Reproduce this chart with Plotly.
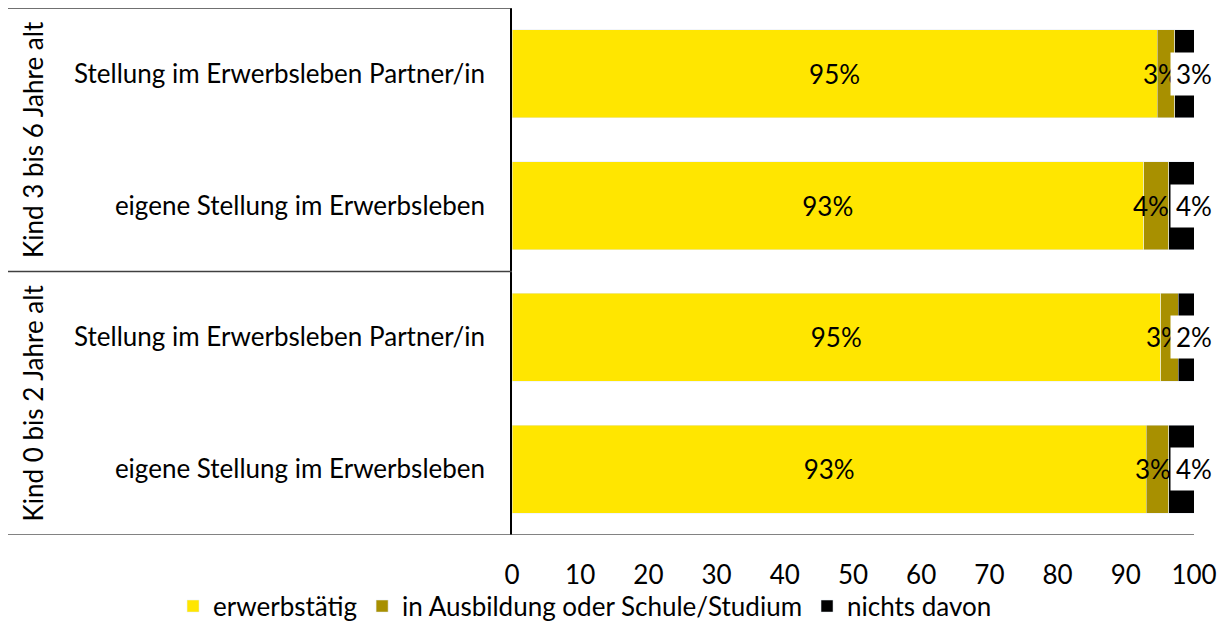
import plotly.graph_objects as go

# categories, bottom to top
groups = ["Kind 0 bis 2 Jahre alt", "Kind 0 bis 2 Jahre alt",
          "Kind 3 bis 6 Jahre alt", "Kind 3 bis 6 Jahre alt"]
labels = ["eigene Stellung im Erwerbsleben", "Stellung im Erwerbsleben Partner/in",
          "eigene Stellung im Erwerbsleben", "Stellung im Erwerbsleben Partner/in"]
keys = [g + " | " + l for g, l in zip(groups, labels)]

erwerbstaetig = [93.0, 95.1, 92.6, 94.6]
ausbildung = [3.3, 2.6, 3.7, 2.6]
nichts = [3.7, 2.3, 3.7, 2.8]

ticks = [0, 10, 20, 30, 40, 50, 60, 70, 80, 90, 100]

FONT = "Lato"
FS = 26
YELLOW = "#FFE600"
OLIVE = "#A89000"

fig = go.Figure()

fig.add_trace(go.Bar(
    y=keys, x=erwerbstaetig, orientation="h", name="erwerbstätig",
    marker_color=YELLOW, text=[f"{v:.0f}%" for v in erwerbstaetig],
    textposition="inside", insidetextanchor="middle", textangle=0,
    textfont=dict(color="black", size=FS), hoverinfo="x+name",
))
fig.add_trace(go.Bar(
    y=keys, x=ausbildung, orientation="h", name="in Ausbildung oder Schule/Studium",
    marker_color=OLIVE, hoverinfo="x+name",
))
fig.add_trace(go.Bar(
    y=keys, x=nichts, orientation="h", name="nichts davon",
    marker_color="black", hoverinfo="x+name",
))

# segment labels for the thin segments
for i, k in enumerate(keys):
    fig.add_annotation(
        x=erwerbstaetig[i] + ausbildung[i] / 2, y=k, xref="x", yref="y",
        text=f"{ausbildung[i]:.0f}%", showarrow=False, xshift=-5,
        font=dict(size=FS, color="black"),
    )
for i, k in enumerate(keys):
    total = erwerbstaetig[i] + ausbildung[i] + nichts[i]
    fig.add_annotation(
        x=total, y=k, xref="x", yref="y",
        text=f"{nichts[i]:.0f}%", showarrow=False,
        bgcolor="white", borderpad=5,
        font=dict(size=FS, color="black"),
    )

# group labels
for gi, g in enumerate(["Kind 0 bis 2 Jahre alt", "Kind 3 bis 6 Jahre alt"]):
    fig.add_annotation(
        x=-0.702, y=gi * 2 + 0.5, xref="paper", yref="y",
        xanchor="center", yanchor="middle",
        text=g, textangle=-90, showarrow=False,
        font=dict(size=FS, color="black"),
    )

# table lines on the left
for yv in [3.5, 1.5]:
    fig.add_shape(type="line", xref="paper", yref="y", x0=-0.739, x1=0,
                  y0=yv, y1=yv, line=dict(color="#404040", width=1.5))
fig.add_shape(type="line", xref="paper", yref="y", x0=-0.739, x1=1,
              y0=-0.5, y1=-0.5, line=dict(color="#595959", width=1.5))

fig.update_layout(
    barmode="stack",
    bargap=1 / 3,
    width=1226, height=624,
    margin=dict(l=504, r=40, t=0, b=97, autoexpand=False),
    paper_bgcolor="white", plot_bgcolor="white",
    font=dict(family=FONT, size=FS, color="black"),
    legend=dict(orientation="h", x=-0.497, xanchor="left", y=-0.135,
                yanchor="middle", font=dict(size=FS), traceorder="normal",
                itemwidth=30, bgcolor="rgba(0,0,0,0)"),
    showlegend=True,
)
fig.update_xaxes(range=[0, 100], tickvals=ticks, showgrid=False, zeroline=False,
                 showline=False, ticks="", ticklabelstandoff=22, fixedrange=True,
                 automargin=False)
fig.update_yaxes(tickvals=keys, ticktext=labels, showgrid=False, zeroline=False,
                 showline=True, linecolor="black", linewidth=1.5, ticks="",
                 ticklabelstandoff=20, range=[-0.5, 3.5], fixedrange=True,
                 automargin=False)

fig.write_html("out.html")
